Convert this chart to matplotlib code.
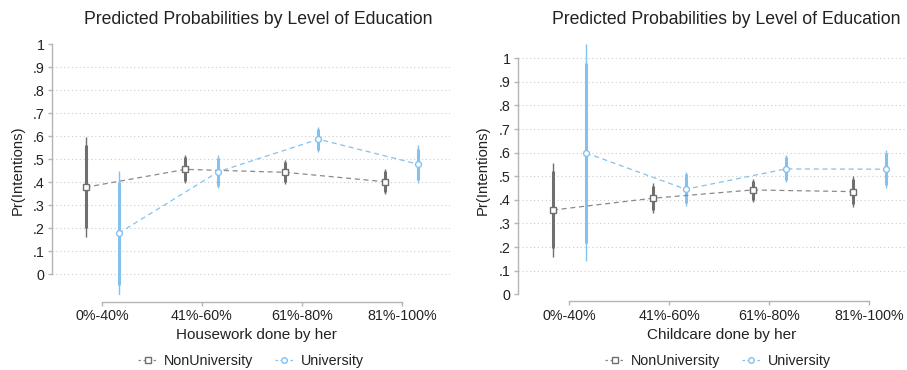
import numpy as np
import matplotlib
matplotlib.use("Agg")
import matplotlib.pyplot as plt
from matplotlib.lines import Line2D

plt.rcParams['font.family'] = ['Liberation Sans', 'DejaVu Sans']

categories = ["0%-40%", "41%-60%", "61%-80%", "81%-100%"]

# housework: predicted probabilities with 95% (thin) and 90% (thick) intervals
hw_nonuni = [0.377, 0.455, 0.442, 0.401]
hw_nonuni_lo95 = [0.160, 0.394, 0.390, 0.347]
hw_nonuni_hi95 = [0.597, 0.517, 0.496, 0.455]
hw_nonuni_lo90 = [0.199, 0.404, 0.398, 0.356]
hw_nonuni_hi90 = [0.561, 0.507, 0.486, 0.446]
hw_uni = [0.177, 0.445, 0.586, 0.477]
hw_uni_lo95 = [-0.091, 0.373, 0.529, 0.397]
hw_uni_hi95 = [0.448, 0.517, 0.640, 0.561]
hw_uni_lo90 = [-0.048, 0.384, 0.540, 0.410]
hw_uni_hi90 = [0.402, 0.506, 0.632, 0.545]

# childcare
cc_nonuni = [0.357, 0.407, 0.442, 0.435]
cc_nonuni_lo95 = [0.159, 0.346, 0.392, 0.371]
cc_nonuni_hi95 = [0.555, 0.470, 0.487, 0.501]
cc_nonuni_lo90 = [0.195, 0.356, 0.400, 0.381]
cc_nonuni_hi90 = [0.522, 0.460, 0.480, 0.490]
cc_uni = [0.599, 0.445, 0.531, 0.530]
cc_uni_lo95 = [0.142, 0.374, 0.477, 0.449]
cc_uni_hi95 = [1.059, 0.519, 0.590, 0.611]
cc_uni_lo90 = [0.216, 0.385, 0.486, 0.462]
cc_uni_hi90 = [0.981, 0.508, 0.580, 0.598]

yticks = [0, .1, .2, .3, .4, .5, .6, .7, .8, .9, 1]
yticklabels = ["0", ".1", ".2", ".3", ".4", ".5", ".6", ".7", ".8", ".9", "1"]

GRAY = "#6f6f6f"
GRAY_LINE = "#8a8a8a"
BLUE = "#84c1ec"
AXIS = "#b4b4b4"
TEXT = "#222222"
W, H = 907, 370


def px_rect(x0, x1, y0, y1):
    return [x0 / W, 1 - y1 / H, (x1 - x0) / W, (y1 - y0) / H]


def draw_panel(ax, series, ylim, xlim, grid_skip):
    x = np.arange(1, len(categories) + 1)
    for y in yticks:
        if y == grid_skip:
            continue
        ax.axhline(y, color="#cccccc", lw=0.8, ls=(0, (1, 2.5)), zorder=0)
    offsets = [-0.165, 0.165]
    for (est, lo95, hi95, lo90, hi90, col, lcol, mk, ms), off in zip(series, offsets):
        xs = x + off
        ax.vlines(xs, lo95, hi95, color=col, lw=1.0, zorder=2)
        ax.vlines(xs, lo90, hi90, color=col, lw=2.2, zorder=2)
        ax.plot(xs, est, color=lcol, lw=0.9, ls=(0, (4, 3)), zorder=3)
        ax.plot(xs, est, ls="none", marker=mk, ms=ms, mfc="white",
                mec=col, mew=1.0, zorder=4)
    ax.set_xlim(*xlim)
    ax.set_ylim(*ylim)
    ax.set_xticks(x)
    ax.set_xticklabels(categories)
    ax.set_yticks(yticks)
    ax.set_yticklabels(yticklabels)
    for s in ["top", "right"]:
        ax.spines[s].set_visible(False)
    ax.spines["left"].set_bounds(0, 1)
    ax.spines["bottom"].set_bounds(1, 4)
    ax.spines["bottom"].set_position(("outward", 5))
    for s in ["left", "bottom"]:
        ax.spines[s].set_color(AXIS)
        ax.spines[s].set_linewidth(1.0)
    ax.tick_params(axis="both", length=2.8, width=1.0, color=AXIS,
                   labelsize=10.3, labelcolor=TEXT, pad=2.5)
    ax.set_facecolor("none")


fig = plt.figure(figsize=(W / 100, H / 100), dpi=100)

ax1 = fig.add_axes(px_rect(52, 450, 44, 295))
draw_panel(ax1, [
    (hw_nonuni, hw_nonuni_lo95, hw_nonuni_hi95, hw_nonuni_lo90, hw_nonuni_hi90, GRAY, GRAY_LINE, "s", 4.3),
    (hw_uni, hw_uni_lo95, hw_uni_hi95, hw_uni_lo90, hw_uni_hi90, BLUE, BLUE, "o", 4.2),
], ylim=(-0.0913, 1.0), xlim=(0.5, 4.48), grid_skip=1)

ax2 = fig.add_axes(px_rect(518, 905, 44.3, 294.3))
draw_panel(ax2, [
    (cc_nonuni, cc_nonuni_lo95, cc_nonuni_hi95, cc_nonuni_lo90, cc_nonuni_hi90, GRAY, GRAY_LINE, "s", 4.3),
    (cc_uni, cc_uni_lo95, cc_uni_hi95, cc_uni_lo90, cc_uni_hi90, BLUE, BLUE, "o", 4.2),
], ylim=(0.0, 1.059), xlim=(0.485, 4.36), grid_skip=0)

# titles, axis titles and legends
panels = [
    (258, 256, 18, "Housework done by her", 251),
    (726, 722, 483, "Childcare done by her", 718),
]
for tx, xlx, ylx, xlabel, lgx in panels:
    fig.text(tx / W, 1 - 20 / H, "Predicted Probabilities by Level of Education",
             ha="center", va="center", fontsize=12.7, color=TEXT)
    fig.text(xlx / W, 1 - 335 / H, xlabel, ha="center", va="center",
             fontsize=11, color=TEXT)
    fig.text(ylx / W, 1 - 170 / H, "Pr(Intentions)", ha="center", va="center",
             rotation=90, fontsize=10.7, color=TEXT)
    handles = [
        Line2D([], [], color=GRAY_LINE, lw=0.9, ls=(0, (2, 2)), marker="s",
               ms=4.0, mfc="white", mec=GRAY, mew=1.0),
        Line2D([], [], color=BLUE, lw=0.9, ls=(0, (2, 2)), marker="o",
               ms=4.0, mfc="white", mec=BLUE, mew=1.0),
    ]
    fig.legend(handles, ["NonUniversity", "University"], loc="center",
               bbox_to_anchor=(lgx / W, 1 - 361 / H), ncol=2, frameon=False,
               fontsize=10.3, handlelength=1.3, handletextpad=0.5,
               columnspacing=1.5, labelcolor=TEXT)

fig.savefig("out.png", dpi=100)
